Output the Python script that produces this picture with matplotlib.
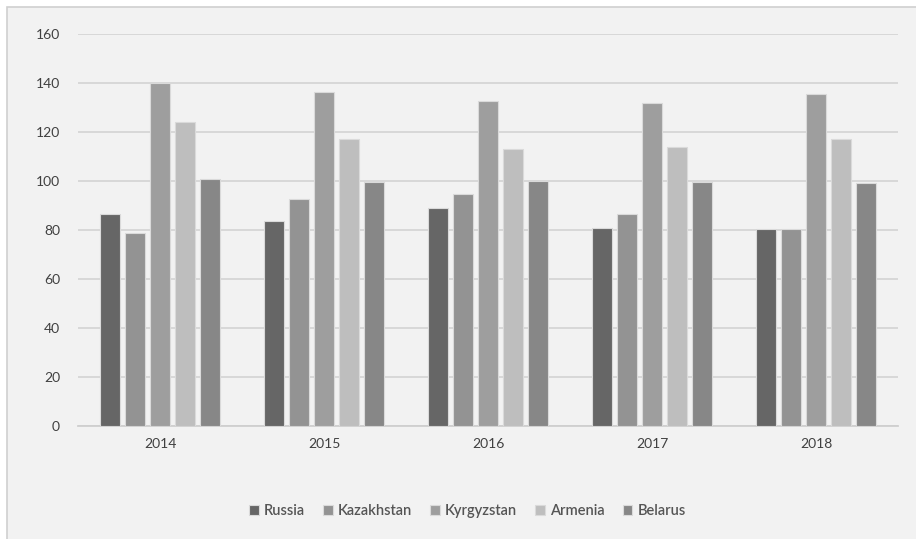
import numpy as np
import matplotlib.pyplot as plt
from matplotlib.patches import Rectangle

years = ['2014', '2015', '2016', '2017', '2018']
countries = ['Russia', 'Kazakhstan', 'Kyrgyzstan', 'Armenia', 'Belarus']
russia = [86.5, 83.5, 89, 80.7, 80.5]
kazakhstan = [78.6, 92.5, 94.5, 86.5, 80.5]
kyrgyzstan = [140, 136.5, 132.5, 132, 135.5]
armenia = [124.2, 117, 113, 114, 117]
belarus = [100.7, 99.5, 100, 99.6, 99]
colors = ['#666666', '#939393', '#9e9e9e', '#bebebe', '#878787']

series = [russia, kazakhstan, kyrgyzstan, armenia, belarus]

plt.rcParams['font.family'] = ['Lato', 'DejaVu Sans']

fig = plt.figure(figsize=(9.16, 5.39), dpi=100)
# grey chart panel, cut off at right and bottom like the screenshot
panel = Rectangle((6.5 / 916, -0.1), 1.1, 1 - 6.5 / 539 + 0.1,
                  transform=fig.transFigure, facecolor='#f2f2f2',
                  edgecolor='#d0d0d0', linewidth=1.2, zorder=-10)
fig.patches.append(panel)

ax = fig.add_axes([78 / 916, 1 - 426 / 539, (898 - 78) / 916, (426 - 34) / 539])
ax.set_facecolor('none')
ax.set_zorder(1)

x = np.arange(len(years))
w = 0.122
step = 0.153
for i, (name, vals) in enumerate(zip(countries, series)):
    ax.bar(x + (i - 2) * step, vals, width=w, color=colors[i],
           edgecolor='#dadada', linewidth=0.8, label=name, zorder=3)

ax.set_xlim(-0.5, len(years) - 0.5)
ax.set_ylim(0, 160)
ax.set_yticks(range(0, 161, 20))
ax.set_xticks(x)
ax.set_xticklabels(years)
ax.grid(axis='y', color='#d6d6d6', linewidth=1.3, zorder=0)
ax.set_axisbelow(True)
for s in ['top', 'right', 'left']:
    ax.spines[s].set_visible(False)
ax.spines['bottom'].set_color('#cfcfcf')
ax.spines['bottom'].set_linewidth(1.3)
ax.tick_params(axis='both', length=0, labelsize=10, labelcolor='#404040')
ax.tick_params(axis='y', pad=13)
ax.tick_params(axis='x', pad=9)

ax.legend(loc='upper center', bbox_to_anchor=(0.475, -0.165), ncol=5,
          frameon=False, handlelength=0.65, handleheight=0.65,
          handletextpad=0.35, columnspacing=1.25, labelcolor='#555555',
          prop={'weight': 'semibold', 'size': 10.5})

fig.savefig('out.png', dpi=100)
